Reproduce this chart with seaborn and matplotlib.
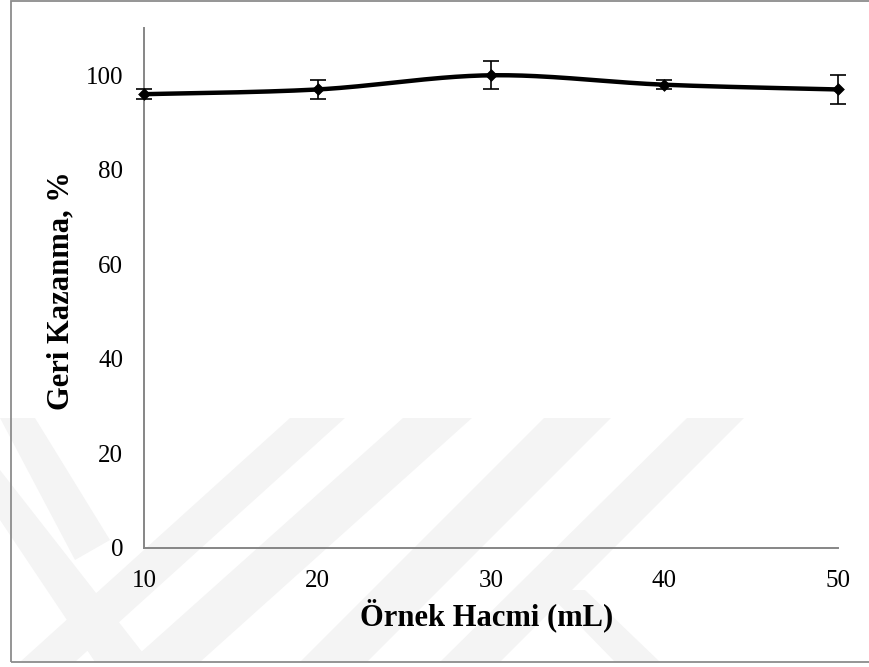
import numpy as np
import pandas as pd
import matplotlib
matplotlib.use("Agg")
import matplotlib.pyplot as plt
from matplotlib.patches import Rectangle, Polygon
import seaborn as sns

# ---- data ----
volumes = [10, 20, 30, 40, 50]          # Örnek Hacmi (mL)
recovery = [96, 97, 100, 98, 97]        # Geri Kazanma, %
errors = [1, 2, 3, 1, 3]                # error bars (±)
x_ticks = [10, 20, 30, 40, 50]
y_ticks = [0, 20, 40, 60, 80, 100]
x_label = "Örnek Hacmi (mL)"
y_label = "Geri Kazanma, %"

df = pd.DataFrame({"hacim": volumes, "geri": recovery, "hata": errors})

sns.set_theme(style="white")
plt.rcParams["font.family"] = ["Liberation Serif", "DejaVu Serif"]

W, H = 869, 667
fig = plt.figure(figsize=(W / 100, H / 100), dpi=100)
fig.patch.set_facecolor("white")

def px(x, y):
    return (x / W, 1 - y / H)

# faint background watermark stripes (figure pixel coords)
wm = "#f4f4f4"
stripes = [
    [(290, 418), (345, 418), (75, 662), (20, 662)],
    [(403, 418), (472, 418), (200, 662), (130, 662)],
    [(544, 418), (611, 418), (367, 662), (300, 662)],
    [(687, 418), (744, 418), (500, 662), (440, 662)],
    [(0, 418), (35, 418), (110, 540), (75, 560)],
    [(0, 470), (0, 520), (95, 662), (150, 662)],
    [(545, 590), (585, 590), (660, 662), (615, 662)],
]
for s in stripes:
    fig.patches.append(Polygon([px(*p) for p in s], closed=True,
                               transform=fig.transFigure, facecolor=wm,
                               edgecolor="none", zorder=-10))

# outer chart-area frame
fig.patches.append(Rectangle(px(11, 662), (W + 20) / W, 661 / H,
                             transform=fig.transFigure, fill=False,
                             edgecolor="#8c8c8c", linewidth=1.3, zorder=-5))

ax = fig.add_axes([144 / W, 1 - 548 / H, (838 - 144) / W, (548 - 28) / H])
ax.patch.set_alpha(0)
ax.set_zorder(1)

# smoothed line (Excel-style smoothing through the data points)
xs = np.asarray(df["hacim"], float)
ys = np.asarray(df["geri"], float)
cx, cy = [], []
n = len(xs)
for i in range(n - 1):
    p0 = np.array([xs[max(i - 1, 0)], ys[max(i - 1, 0)]])
    p1 = np.array([xs[i], ys[i]])
    p2 = np.array([xs[i + 1], ys[i + 1]])
    p3 = np.array([xs[min(i + 2, n - 1)], ys[min(i + 2, n - 1)]])
    b1 = p1 + (p2 - p0) / 6.0
    b2 = p2 - (p3 - p1) / 6.0
    t = np.linspace(0, 1, 40)[:, None]
    seg = ((1 - t) ** 3) * p1 + 3 * ((1 - t) ** 2) * t * b1 + 3 * (1 - t) * t ** 2 * b2 + t ** 3 * p2
    cx.extend(seg[:, 0]); cy.extend(seg[:, 1])
curve = pd.DataFrame({"x": cx, "y": cy})
sns.lineplot(data=curve, x="x", y="y", ax=ax, color="black", linewidth=3.2,
             sort=False, estimator=None, zorder=3)

ax.errorbar(df["hacim"], df["geri"], yerr=df["hata"], fmt="none",
            ecolor="black", elinewidth=1.2, capsize=6, capthick=1.2,
            zorder=4, clip_on=False)
sns.scatterplot(data=df, x="hacim", y="geri", ax=ax, marker="D", s=36,
                color="black", edgecolor="black", zorder=5, clip_on=False)

ax.set_xlim(10, 50)
ax.set_ylim(0, 110)
ax.set_xticks(x_ticks)
ax.set_yticks(y_ticks)
ax.set_xticklabels([str(v) for v in x_ticks])
ax.set_yticklabels([str(v) for v in y_ticks])

for side in ["top", "right"]:
    ax.spines[side].set_visible(False)
for side in ["left", "bottom"]:
    ax.spines[side].set_color("#868686")
    ax.spines[side].set_linewidth(1.4)

ax.tick_params(axis="both", which="major", direction="out", length=4,
               width=1.0, color="#868686", labelsize=18, labelcolor="black")
ax.tick_params(axis="x", pad=12)
ax.tick_params(axis="y", pad=11)

ax.set_xlabel(x_label, fontsize=22, fontweight="bold", color="black")
ax.set_ylabel(y_label, fontsize=22, fontweight="bold", color="black")
ax.xaxis.set_label_coords((487 - 144) / (838 - 144), -(615 - 548) / (548 - 28))
ax.yaxis.set_label_coords(-(144 - 61) / (838 - 144), (548 - 291) / (548 - 28))
ax.xaxis.label.set_va("center")
ax.yaxis.label.set_va("center")
ax.grid(False)

fig.savefig("out.png", dpi=100, facecolor="white")
